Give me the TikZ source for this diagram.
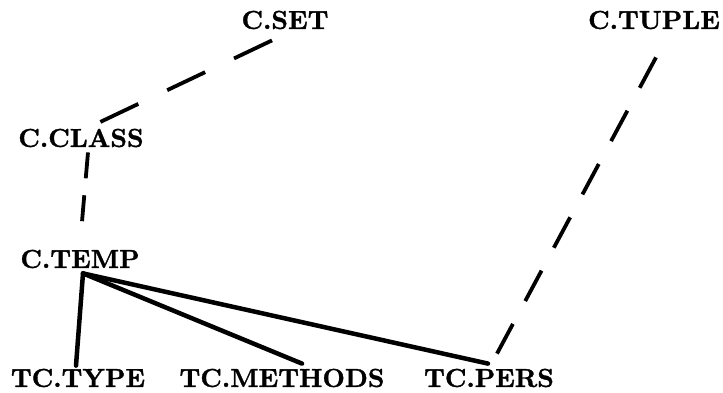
\documentclass[tikz,border=0pt]{standalone}
\usepackage{fontspec}
\newfontfamily\lblfont{lmroman10-bold.otf}[FakeBold=1.2]
\usetikzlibrary{calc}
\begin{document}
\begin{tikzpicture}[x=1pt,y=-1pt,
  lbl/.style={inner sep=0pt,font=\fontsize{26}{30}\selectfont\lblfont},
  dashlink/.style={line width=3.8pt},
  solidlink/.style={line width=4.5pt,line cap=round}]
\useasboundingbox (0,0) rectangle (723,392);
\node[lbl] (cset)    at (285,20)  {C.SET};
\node[lbl] (ctuple)  at (654,20)  {C.TUPLE};
\node[lbl] (cclass)  at (81,138)  {C.CLASS};
\node[lbl] (ctemp)   at (80,259)  {C.TEMP};
\node[lbl] (tctype)  at (78,378)  {TC.TYPE};
\node[lbl] (tcmeth)  at (282,378) {TC.METHODS};
\node[lbl] (tcpers)  at (489,378) {TC.PERS};
% dashed links
\draw[dashlink,dash pattern=on 42 off 32]
  ($(cset.south)+(-13,11)$) -- ($(cclass.north)+(18,-6)$);
\draw[dashlink,dash pattern=on 26 off 17]
  ($(cclass.south)+(7,5)$) -- ($(ctemp.north)+(2,-28)$);
\draw[dashlink,dash pattern=on 34.5 off 26]
  ($(ctuple.south)+(2,28)$) -- ($(tcpers.north)+(8,-15)$);
% solid links
\coordinate (hub) at ($(ctemp.south)+(3,5)$);
\draw[solidlink] (hub) -- ($(tctype.north)+(-2,-3)$);
\draw[solidlink] (hub) -- ($(tcmeth.north)+(20,-5)$);
\draw[solidlink] (hub) -- ($(tcpers.north)+(-1,-5)$);
\end{tikzpicture}
\end{document}
